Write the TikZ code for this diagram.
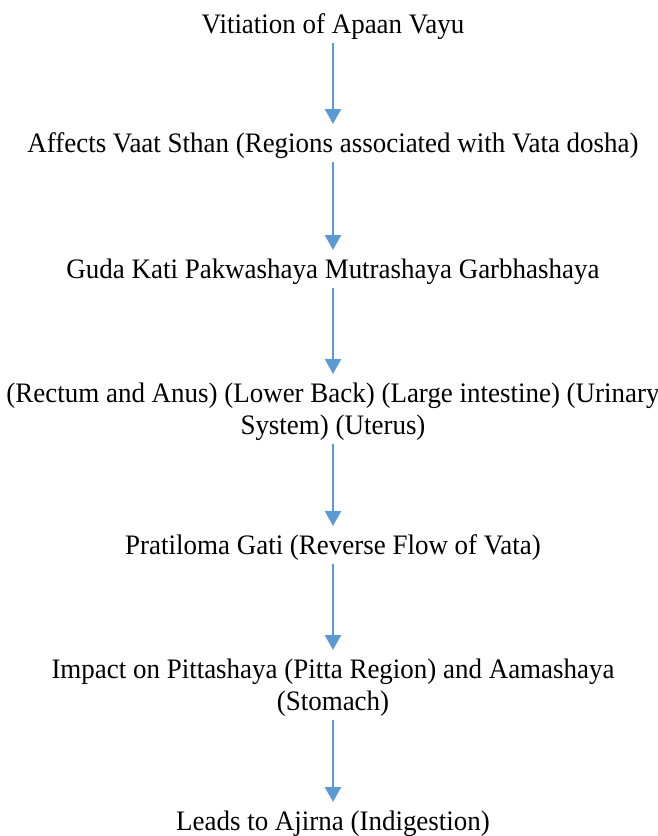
\documentclass[tikz,border=0pt]{standalone}
\usepackage{fontspec}
\setmainfont[FakeStretch=0.956]{Liberation Serif}
\usetikzlibrary{arrows.meta}

\begin{document}
\begin{tikzpicture}[x=0.5pt,y=-0.5pt,
    flowtext/.style={anchor=north,inner sep=0pt,align=center,font=\fontsize{14.1}{16}\selectfont},
    flowarrow/.style={line width=1.15pt,color={rgb,255:red,91;green,155;blue,213},
      -{Triangle[width=8pt,length=7.5pt]},shorten >=2.8pt}]

    \useasboundingbox (0,0) rectangle (658,836);

    % steps of the flow
    \node[flowtext] (vitiation) at (333,10.6) {\strut Vitiation of Apaan Vayu};
    \node[flowtext] (vaat) at (333,129.6) {\strut Affects Vaat Sthan (Regions associated with Vata dosha)};
    \node[flowtext] (guda) at (333,255.6) {\strut Guda Kati Pakwashaya Mutrashaya Garbhashaya};
    \node[flowtext] (organs) at (333,379.6) {\strut (Rectum and Anus) (Lower Back) (Large intestine) (Urinary\\ \strut System) (Uterus)};
    \node[flowtext] (pratiloma) at (333,531.6) {\strut Pratiloma Gati (Reverse Flow of Vata)};
    \node[flowtext] (impact) at (333,655.6) {\strut Impact on Pittashaya (Pitta Region) and Aamashaya\\ \strut (Stomach)};
    \node[flowtext] (ajirna) at (333,807.6) {\strut Leads to Ajirna (Indigestion)};

    % arrows
    \foreach \a/\b in {vitiation/vaat, vaat/guda, guda/organs, organs/pratiloma, pratiloma/impact, impact/ajirna}
      \draw[flowarrow] (\a) -- (\b);

\end{tikzpicture}
\end{document}
